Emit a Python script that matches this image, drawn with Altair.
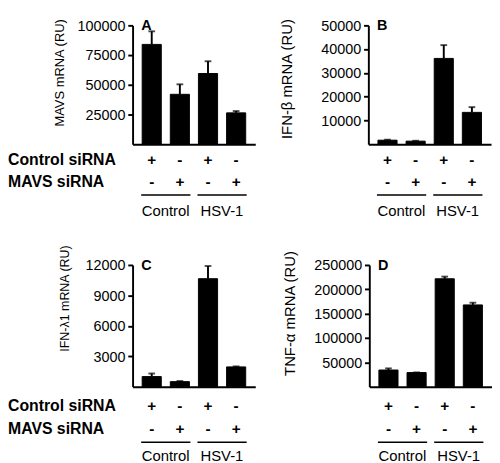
import altair as alt
import pandas as pd

# ---------------- data ----------------
samples = ["s1", "s2", "s3", "s4"]
control_sirna = ["+", "-", "+", "-"]
mavs_sirna = ["-", "+", "-", "+"]
row_labels = ["Control siRNA", "MAVS siRNA"]
group_names = ["Control", "HSV-1"]
group_first = ["s1", "s3"]
group_last = ["s2", "s4"]

mavs_mean = [84000, 42000, 59500, 26400]
mavs_upper = [95000, 50400, 69800, 27900]
ifnb_mean = [1700, 1300, 36100, 13400]
ifnb_upper = [1900, 1450, 41700, 15600]
ifnl_mean = [1000, 500, 10650, 1950]
ifnl_upper = [1300, 560, 11900, 2000]
tnfa_mean = [34300, 29100, 221700, 168000]
tnfa_upper = [37600, 29300, 226100, 172500]

mavs_ticks = [25000, 50000, 75000, 100000]
ifnb_ticks = [10000, 20000, 30000, 40000, 50000]
ifnl_ticks = [3000, 6000, 9000, 12000]
tnfa_ticks = [50000, 100000, 150000, 200000, 250000]

FONT = "Liberation Sans"
W = 128


def panel(letter, mean, upper, ytitle, ymax, yticks, show_rows,
          title_size, title_pad, title_y, H, r1, r2, r3, r4):
    df = pd.DataFrame({"sample": samples, "mean": mean, "upper": upper,
                       "ctrl": control_sirna, "mavs": mavs_sirna})
    x = alt.X("sample:N",
              scale=alt.Scale(domain=samples, paddingInner=0.32, paddingOuter=0.34),
              axis=alt.Axis(labels=False, ticks=False, title=None,
                            domainColor="black", domainWidth=2))
    y = alt.Y("mean:Q",
              scale=alt.Scale(domain=[0, ymax], nice=False, zero=True),
              axis=alt.Axis(values=yticks, tickCount=len(yticks), format="d",
                            title=ytitle,
                            titleFont=FONT, titleFontSize=title_size,
                            titleFontWeight="normal", titleColor="black",
                            titleAnchor="end", titleY=title_y,
                            titlePadding=title_pad,
                            labelFont=FONT, labelFontSize=15, labelColor="black",
                            labelPadding=3, labelOverlap=False,
                            tickColor="black", tickWidth=2,
                            tickSize=5, domainColor="black", domainWidth=2,
                            grid=False))
    base = alt.Chart(df)
    bars = base.mark_bar(color="black", stroke="black", strokeWidth=1).encode(x=x, y=y)
    err = base.mark_rule(color="black", strokeWidth=2).encode(
        x="sample:N", y="mean:Q", y2="upper:Q")
    cap = base.mark_tick(color="black", thickness=2, size=7,
                         orient="horizontal").encode(x="sample:N", y="upper:Q")
    row1 = base.mark_text(font=FONT, fontWeight="bold", fontSize=16,
                          color="black").encode(
        x="sample:N", y=alt.value(H + r1), text="ctrl:N")
    row2 = base.mark_text(font=FONT, fontWeight="bold", fontSize=16,
                          color="black").encode(
        x="sample:N", y=alt.value(H + r2), text="mavs:N")
    gdf = pd.DataFrame({"group": group_names, "first": group_first,
                        "last": group_last})
    glines = alt.Chart(gdf).mark_rule(color="black", strokeWidth=1.5,
                                      xOffset=-11, x2Offset=11).encode(
        x="first:N", x2="last:N", y=alt.value(H + r3))
    glabels = alt.Chart(gdf).mark_text(font=FONT, fontSize=15.5, color="black",
                                       dx=14.5).encode(
        x="first:N", y=alt.value(H + r4), text="group:N")
    ldf = pd.DataFrame({"t": [letter]})
    lab = alt.Chart(ldf).mark_text(font=FONT, fontSize=15, fontWeight="bold",
                                   align="left", baseline="top",
                                   color="black").encode(
        x=alt.value(9), y=alt.value(-7), text="t:N")
    layers = [bars, err, cap, row1, row2, glines, glabels, lab]
    if show_rows:
        for lbl, ry in zip(row_labels, [r1, r2]):
            rdf = pd.DataFrame({"t": [lbl]})
            layers.append(alt.Chart(rdf).mark_text(
                font=FONT, fontSize=16.5, fontWeight="bold", align="left",
                color="black").encode(x=alt.value(-130), y=alt.value(H + ry),
                                      text="t:N"))
    return alt.layer(*layers).properties(width=W, height=H)


pA = panel("A", mavs_mean, mavs_upper, "MAVS mRNA (RU)", 100000, mavs_ticks,
           True, 13.5, 11, -7, 124, 17, 40, 53, 70)
pB = panel("B", ifnb_mean, ifnb_upper, "IFN-β mRNA (RU)", 50000, ifnb_ticks,
           False, 15.5, 27, -7, 124, 17, 40, 53, 70)
pC = panel("C", ifnl_mean, ifnl_upper, "IFN-λ1 mRNA (RU)", 12000, ifnl_ticks,
           True, 13, 14, -21, 127, 20, 44, 58, 73)
pD = panel("D", tnfa_mean, tnfa_upper, "TNF-α mRNA (RU)", 250000, tnfa_ticks,
           False, 15.5, 17, -15, 127, 20, 44, 58, 73)

chart = alt.vconcat(
    alt.hconcat(pA, pB, spacing=26),
    alt.hconcat(pC, pD, spacing=28),
    spacing=25,
).properties(padding=0).configure_view(stroke=None)

chart.save("out.html", embed_options={"renderer": "svg", "actions": False})
